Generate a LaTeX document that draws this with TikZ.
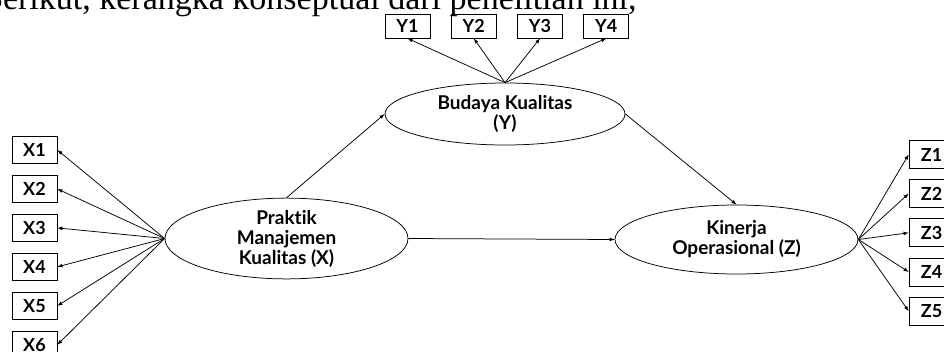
\documentclass[tikz,border=0pt]{standalone}
\usepackage{fontspec}
\setmainfont{Liberation Serif}
\newfontfamily\diagfont{Lato}[Ligatures=NoCommon]
\usetikzlibrary{positioning,chains,shapes,arrows}

\begin{document}
\begin{tikzpicture}[x=1pt,y=-1pt,line width=0.75pt,
  every node/.style={font=\diagfont\bfseries\fontsize{18}{20}\selectfont},
  indbox/.style={draw,rectangle,inner sep=0pt,minimum width=45pt,minimum height=27pt},
  latvar/.style={draw,ellipse,inner sep=0pt,align=center,minimum width=243pt,minimum height=69pt,
    font=\diagfont\bfseries\fontsize{19}{20}\selectfont},
  -latex
]
\useasboundingbox (0,0) rectangle (944,351);
\clip (0,0) rectangle (944,351);

% the sentence above the figure
\node[anchor=base west,inner sep=0pt,font=\rmfamily\fontsize{34}{34}\selectfont] (intro) at (-20,9)
  {Berikut, kerangka konseptual dari penelitian ini,};

% the latent variables
\node[latvar] (PMK) at (286.5,238.5) {Praktik\\Manajemen\\Kualitas (X)};
\node[latvar,minimum width=240pt,minimum height=62pt] (BK) at (505,114) {Budaya Kualitas\\(Y)};
\node[latvar] (KO) at (736.5,239.5) {Kinerja\\Operasional (Z)};

% the indicators of X
\begin{scope}[shift={(34.5,150)},start chain=going below,node distance=11.2pt]
\foreach \i in {1,...,6}
  \node[indbox,on chain] (X\i) {X\i};
\end{scope}

% the indicators of Y
\begin{scope}[shift={(407.5,26)},start chain=going right,node distance=20.5pt]
\foreach \i in {1,...,4}
  \node[indbox,minimum height=24pt,on chain] (Y\i) {Y\i};
\end{scope}

% the indicators of Z
\begin{scope}[shift={(931.5,154.5)},start chain=going below,node distance=10.4pt]
\foreach \i in {1,...,5}
  \node[indbox,minimum height=28pt,on chain] (Z\i) {Z\i};
\end{scope}

% the edges
\foreach \i in {1,...,6}
  \draw (PMK.west) -- (X\i.east);
\foreach \i in {1,...,4}
  \draw (BK.north) -- (Y\i.south);
\foreach \i in {1,...,5}
  \draw (KO.east) -- (Z\i.west);

\draw (PMK.north) -- (BK.west);
\draw (BK.east) -- (KO.north);
\draw (PMK.east) -- (KO.west);

\end{tikzpicture}
\end{document}
